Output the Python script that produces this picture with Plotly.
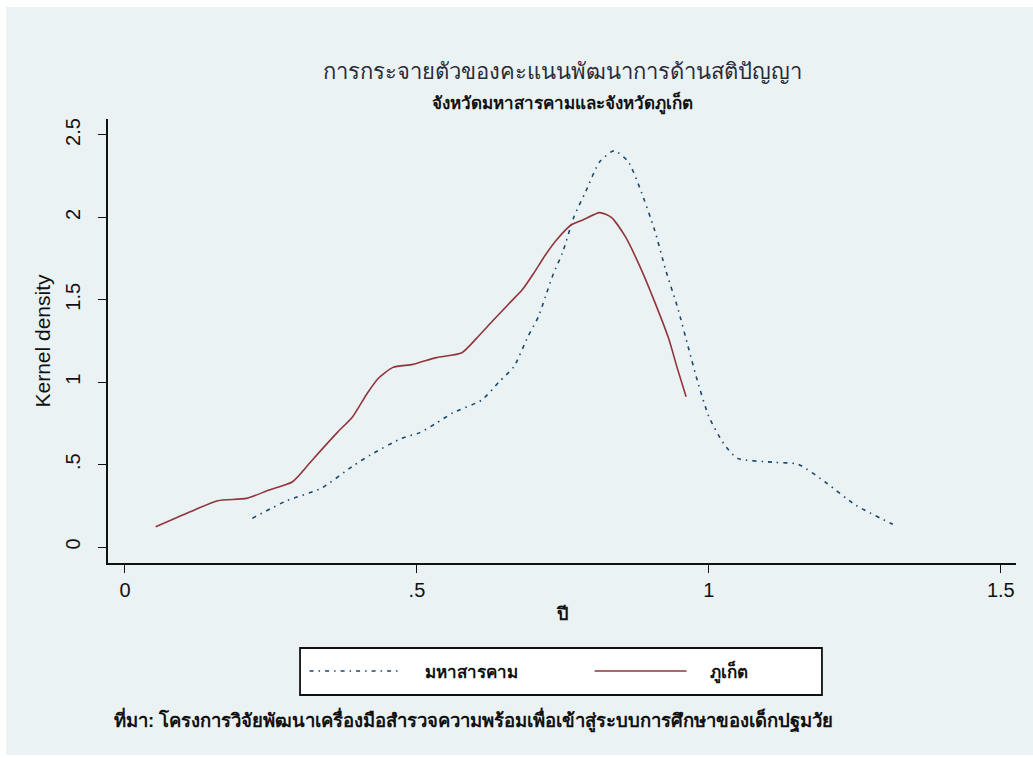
import plotly.graph_objects as go

# Phuket (solid maroon)
phuket_x = [0.0525, 0.119, 0.159, 0.208, 0.247, 0.287, 0.316, 0.331, 0.365, 0.390, 0.415, 0.434,
            0.459, 0.493, 0.533, 0.577, 0.602, 0.631, 0.661, 0.680, 0.700, 0.720, 0.739, 0.764,
            0.784, 0.813, 0.833, 0.857, 0.882, 0.907, 0.931, 0.946, 0.961]
phuket_y = [0.123, 0.225, 0.281, 0.295, 0.346, 0.396, 0.508, 0.568, 0.700, 0.791, 0.933, 1.024,
            1.090, 1.108, 1.149, 1.179, 1.266, 1.377, 1.489, 1.559, 1.661, 1.772, 1.863, 1.954,
            1.984, 2.029, 2.000, 1.883, 1.701, 1.489, 1.266, 1.084, 0.912]

# Maha Sarakham (dashed navy)
maha_x = [0.218, 0.277, 0.336, 0.390, 0.420, 0.474, 0.505, 0.533, 0.562, 0.611, 0.641, 0.666,
          0.690, 0.708, 0.720, 0.734, 0.749, 0.769, 0.789, 0.813, 0.838, 0.862, 0.882, 0.907,
          0.926, 0.946, 0.966, 0.980, 1.000, 1.025, 1.049, 1.113, 1.153, 1.202, 1.251, 1.315]
maha_y = [0.174, 0.281, 0.356, 0.491, 0.558, 0.660, 0.694, 0.751, 0.815, 0.892, 1.003, 1.094,
          1.276, 1.397, 1.519, 1.661, 1.782, 2.004, 2.156, 2.338, 2.405, 2.338, 2.176, 1.924,
          1.681, 1.458, 1.195, 1.013, 0.791, 0.629, 0.538, 0.514, 0.502, 0.387, 0.255, 0.138]

x_ticks = [0, 0.5, 1, 1.5]
x_tick_labels = ["0", ".5", "1", "1.5"]
y_ticks = [0, 0.5, 1, 1.5, 2, 2.5]
y_tick_labels = ["0", ".5", "1", "1.5", "2", "2.5"]

BG = "#EAF2F3"
FONT = "Liberation Sans, Arial, sans-serif"
PAD = "\u00a0\u00a0\u00a0\u00a0"

fig = go.Figure()
fig.add_trace(go.Scatter(
    x=maha_x, y=maha_y, mode="lines", name=PAD + "<b>มหาสารคาม</b>",
    line=dict(color="#1A476F", width=1.6, dash="4px,5px,1.5px,5px", shape="spline", smoothing=0.6),
))
fig.add_trace(go.Scatter(
    x=phuket_x, y=phuket_y, mode="lines", name=PAD + "<b>ภูเก็ต</b>",
    line=dict(color="#90353B", width=1.6, shape="spline", smoothing=0.6),
))

fig.update_layout(
    width=1033, height=758,
    margin=dict(l=108, r=17, t=119, b=195),
    paper_bgcolor="white",
    plot_bgcolor="white",
    font=dict(family=FONT, color="#111"),
    showlegend=True,
    legend=dict(
        orientation="h", x=0.2165, y=-0.2444, xanchor="left", yanchor="middle",
        bgcolor="rgba(0,0,0,0)", borderwidth=0,
        font=dict(size=17, color="#111"),
        itemwidth=92,
        entrywidth=178, entrywidthmode="pixels",
    ),
    shapes=[
        dict(type="rect", xref="paper", yref="paper",
             x0=-0.1123, x1=1.02, y0=-0.4324, y1=1.2523,
             fillcolor=BG, line=dict(width=0), layer="below"),
        dict(type="rect", xref="paper", yref="paper",
             x0=0.2115, x1=0.7863, y0=-0.2973, y1=-0.1914,
             fillcolor="white", line=dict(width=1.8, color="#111"), layer="below"),
    ],
    annotations=[
        dict(text="การกระจายตัวของคะแนนพัฒนาการด้านสติปัญญา", xref="paper", yref="paper",
             x=0.5, y=1.108, xanchor="center", yanchor="middle", showarrow=False,
             font=dict(size=22, color="#2a2a3a")),
        dict(text="<b>จังหวัดมหาสารคามและจังหวัดภูเก็ต</b>", xref="paper", yref="paper",
             x=0.5, y=1.037, xanchor="center", yanchor="middle", showarrow=False,
             font=dict(size=17, color="#111")),
        dict(text="<b>ที่มา: โครงการวิจัยพัฒนาเครื่องมือสำรวจความพร้อมเพื่อเข้าสู่ระบบการศึกษาของเด็กปฐมวัย</b>",
             xref="paper", yref="paper", x=0.0044, y=-0.354, xanchor="left", yanchor="middle",
             showarrow=False, font=dict(size=18.5, color="#111")),
    ],
)

fig.update_xaxes(
    range=[-0.0291, 1.526], tickvals=x_ticks, ticktext=x_tick_labels,
    showgrid=False, zeroline=False, showline=True, linecolor="#111", linewidth=1.5,
    ticks="outside", ticklen=8, tickcolor="#111", tickwidth=1.2,
    tickfont=dict(size=20, color="#111"),
    title=dict(text="<b>ปี</b>", font=dict(size=18, color="#111"), standoff=8),
)
fig.update_yaxes(
    range=[-0.097, 2.597], tickvals=y_ticks, ticktext=y_tick_labels, tickangle=-90,
    showgrid=True, gridcolor=BG, gridwidth=1.5, zeroline=False,
    showline=True, linecolor="#111", linewidth=1.5,
    ticks="outside", ticklen=8, tickcolor="#111", tickwidth=1.2,
    ticklabelstandoff=10,
    tickfont=dict(size=20, color="#111"),
    title=dict(text="Kernel density", font=dict(size=21, color="#111"), standoff=6),
)

fig.write_html("out.html", config={"displayModeBar": False},
               post_script="document.body.style.margin='0';")
